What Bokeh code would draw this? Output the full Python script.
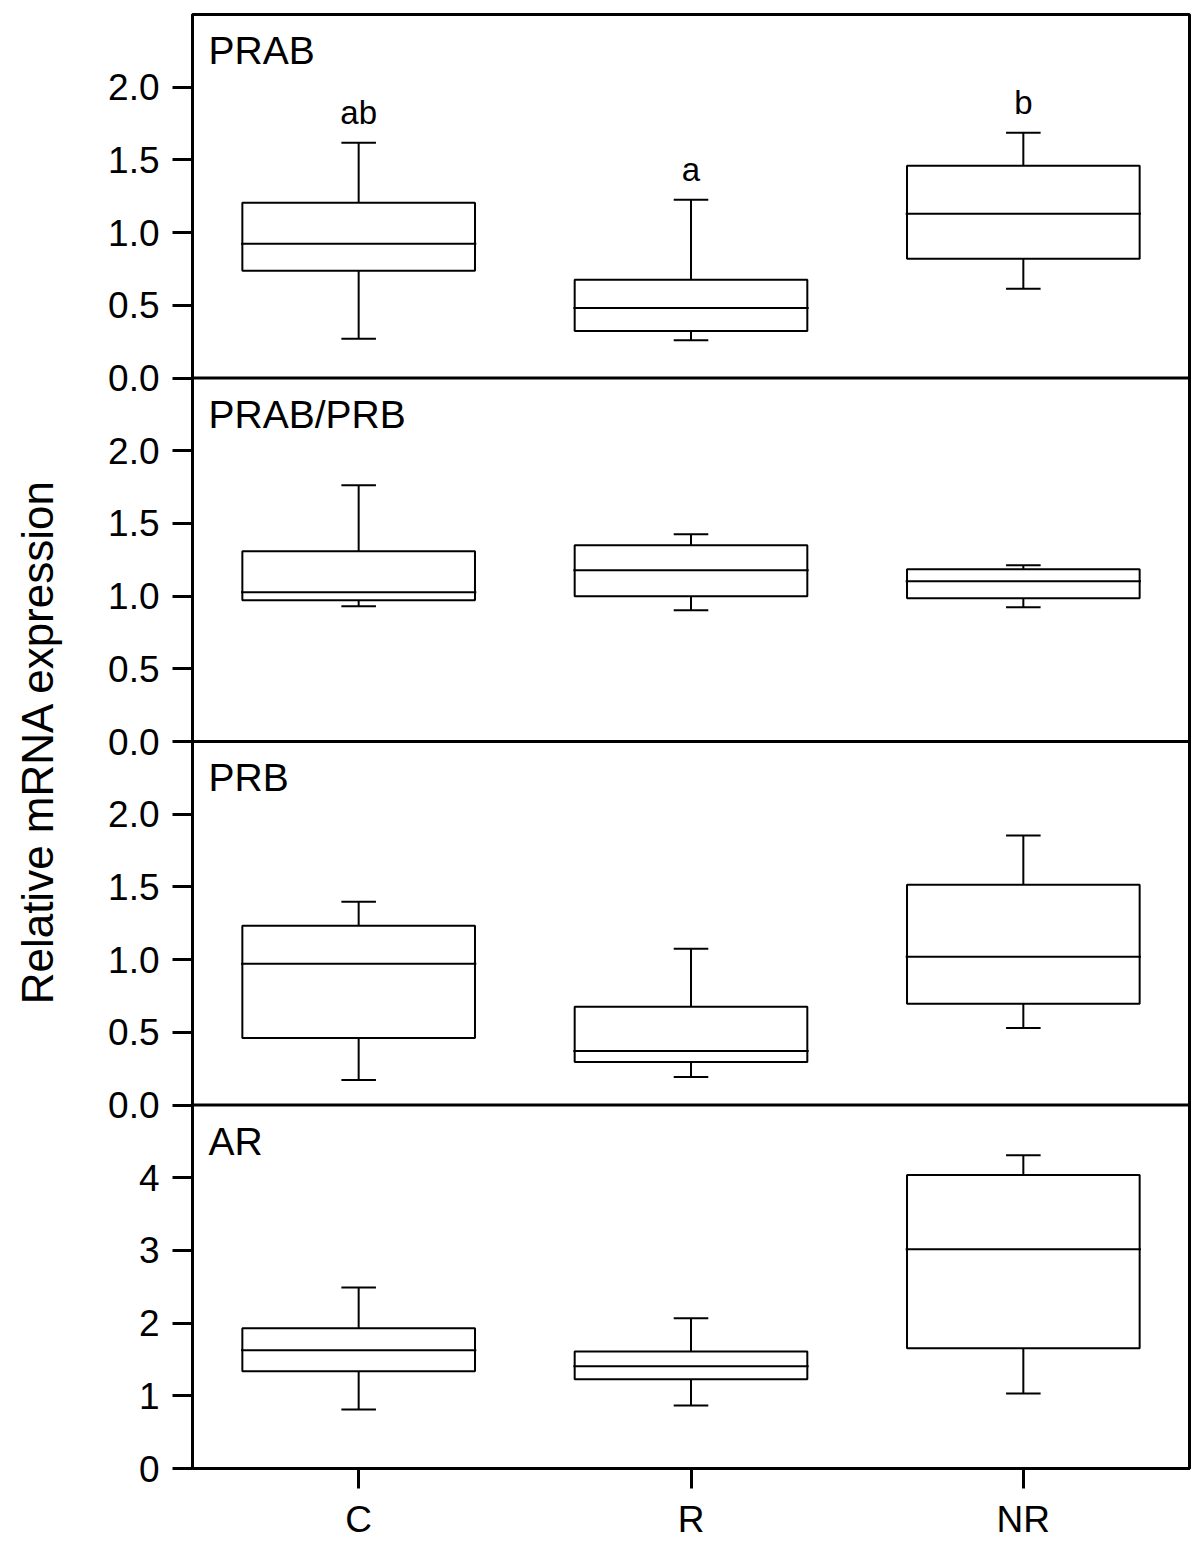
from bokeh.plotting import figure
from bokeh.models import Range1d, FixedTicker, Span, ColumnDataSource
from bokeh.embed import file_html
from bokeh.resources import INLINE
from bokeh.core.properties import value

# ---------------- data ----------------
groups = ["C", "R", "NR"]

panel_names = ["PRAB", "PRAB/PRB", "PRB", "AR"]
panel_ymax = [2.5, 2.5, 2.5, 5]

ratio_tick_values = [0, 0.5, 1.0, 1.5, 2.0]
ratio_tick_labels = ["0.0", "0.5", "1.0", "1.5", "2.0"]
ar_tick_values = [0, 1, 2, 3, 4]
ar_tick_labels = ["0", "1", "2", "3", "4"]

prab_low = [0.270, 0.260, 0.613]
prab_q1 = [0.737, 0.324, 0.820]
prab_med = [0.923, 0.482, 1.130]
prab_q3 = [1.205, 0.675, 1.460]
prab_high = [1.618, 1.226, 1.687]
prab_letters = ["ab", "a", "b"]

ratio_low = [0.930, 0.902, 0.923]
ratio_q1 = [0.971, 0.999, 0.985]
ratio_med = [1.026, 1.178, 1.102]
ratio_q3 = [1.309, 1.350, 1.185]
ratio_high = [1.763, 1.426, 1.212]

prb_low = [0.172, 0.193, 0.530]
prb_q1 = [0.461, 0.296, 0.696]
prb_med = [0.971, 0.372, 1.019]
prb_q3 = [1.233, 0.675, 1.515]
prb_high = [1.398, 1.074, 1.853]

ar_low = [0.810, 0.868, 1.033]
ar_q1 = [1.336, 1.226, 1.653]
ar_med = [1.625, 1.405, 3.017]
ar_q3 = [1.930, 1.610, 4.036]
ar_high = [2.490, 2.066, 4.310]

# ---------------- style ----------------
FONT = "Liberation Sans"
BOX_W = 0.70
CAP_W = 0.104
LW = 2
FRAME_LW = 3
N = len(panel_names)
UNITS = 5  # global units per panel

xs = list(range(len(groups)))

p = figure(width=1193, height=1548,
           x_range=Range1d(-0.5, len(groups) - 0.5),
           y_range=Range1d(0, N * UNITS),
           output_backend="svg", toolbar_location=None,
           min_border_left=192, min_border_right=4,
           min_border_top=14, min_border_bottom=80)

p.xgrid.grid_line_color = None
p.ygrid.grid_line_color = None
p.outline_line_color = "black"
p.outline_line_width = FRAME_LW

panel_data = [
    (prab_low, prab_q1, prab_med, prab_q3, prab_high, ratio_tick_values, ratio_tick_labels),
    (ratio_low, ratio_q1, ratio_med, ratio_q3, ratio_high, ratio_tick_values, ratio_tick_labels),
    (prb_low, prb_q1, prb_med, prb_q3, prb_high, ratio_tick_values, ratio_tick_labels),
    (ar_low, ar_q1, ar_med, ar_q3, ar_high, ar_tick_values, ar_tick_labels),
]

ticks = []
overrides = {}
for k, (name, ymax, pdat) in enumerate(zip(panel_names, panel_ymax, panel_data)):
    low, q1, med, q3, high, tv, tl = pdat
    rname = "r%d" % k
    p.extra_y_ranges[rname] = Range1d(-(N - 1 - k) * ymax, (k + 1) * ymax)
    base = (N - 1 - k) * UNITS
    for v, lab in zip(tv, tl):
        g = int(round(base + v * UNITS / ymax))
        ticks.append(g)
        overrides[g] = lab
        overrides[str(g)] = lab
    if k < N - 1:
        p.add_layout(Span(location=base, dimension="width", line_color="black",
                          line_width=FRAME_LW))

    src = ColumnDataSource(dict(
        x=xs, low=low, q1=q1, med=med, q3=q3, high=high,
        cl=[x - CAP_W / 2 for x in xs], cr=[x + CAP_W / 2 for x in xs],
        ml=[x - BOX_W / 2 - 0.004 for x in xs], mr=[x + BOX_W / 2 + 0.004 for x in xs],
    ))
    kw = dict(source=src, y_range_name=rname, line_color="black", line_width=LW)
    p.segment(x0="x", y0="q3", x1="x", y1="high", **kw)
    p.segment(x0="x", y0="q1", x1="x", y1="low", **kw)
    p.segment(x0="cl", y0="high", x1="cr", y1="high", **kw)
    p.segment(x0="cl", y0="low", x1="cr", y1="low", **kw)
    p.vbar(x="x", width=BOX_W, bottom="q1", top="q3", fill_color="white", **kw)
    p.segment(x0="ml", y0="med", x1="mr", y1="med", **kw)

    p.text(x=[-0.5], y=[ymax], text=[name], x_offset=16, y_offset=36,
           text_align="left", text_baseline="alphabetic",
           text_font=value(FONT), text_font_size="39px", text_color="black",
           y_range_name=rname)

    if k == 0:
        p.text(x=xs, y=high, text=prab_letters, x_offset=0, y_offset=-30,
               text_align="center", text_baseline="alphabetic",
               text_font=value(FONT), text_font_size="33px", text_color="black",
               y_range_name=rname)

# ---------------- axes ----------------
yax = p.yaxis[0]
yax.ticker = FixedTicker(ticks=sorted(ticks))
yax.major_label_overrides = overrides
yax.axis_label = "Relative mRNA expression"
yax.axis_label_text_font = FONT
yax.axis_label_text_font_size = "44px"
yax.axis_label_text_font_style = "normal"
yax.axis_label_text_color = "black"
yax.axis_label_standoff = 43

xax = p.xaxis[0]
xax.ticker = FixedTicker(ticks=xs)
xax.major_label_overrides = {**{x: g for x, g in zip(xs, groups)},
                             **{str(x): g for x, g in zip(xs, groups)}}

for ax in (xax, yax):
    ax.axis_line_width = FRAME_LW
    ax.axis_line_color = "black"
    ax.major_tick_in = 0
    ax.major_tick_out = 20
    ax.major_tick_line_width = FRAME_LW
    ax.major_tick_line_color = "black"
    ax.minor_tick_line_color = None
    ax.major_label_text_font = FONT
    ax.major_label_text_font_size = "37px"
    ax.major_label_text_color = "black"
yax.major_label_standoff = 13
xax.major_label_standoff = 10

open("out.html", "w").write(file_html(p, INLINE))
